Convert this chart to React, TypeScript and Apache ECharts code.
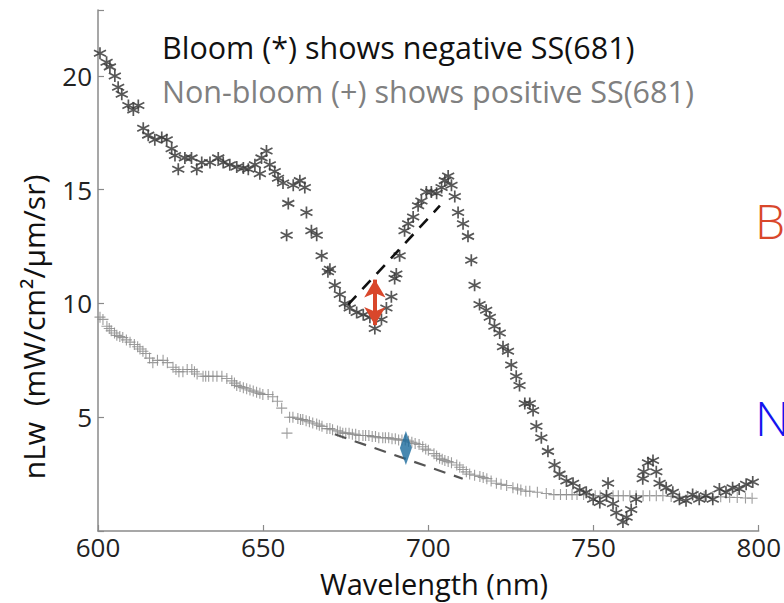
import React, { useEffect, useRef } from "react";
import * as echarts from "echarts";

// Bloom spectrum (asterisks): wavelength (nm) and nLw
const bloomWl = [600.6, 602.6, 603.6, 605.1, 606.1, 607.2, 609.2, 610.7, 612.2, 613.7, 615.2, 617.2, 619.3, 620.8, 622.3, 623.3, 624.3, 626.3, 628.3, 629.9, 631.4, 633.9, 636.4, 637.9, 639.9, 642.0, 644.0, 645.5, 647.5, 649.0, 649.5, 651.0, 652.0, 653.5, 654.5, 656.0, 657.1, 657.6, 659.1, 661.1, 662.6, 663.1, 664.6, 666.2, 667.7, 669.6, 670.2, 671.7, 673.2, 674.7, 676.2, 678.3, 680.3, 682.3, 683.8, 685.8, 687.3, 688.8, 689.8, 690.3, 691.3, 692.8, 693.9, 695.4, 696.9, 697.9, 699.4, 700.9, 702.5, 704.0, 705.0, 706.0, 707.0, 708.0, 709.0, 710.5, 712.0, 713.0, 714.0, 715.5, 717.5, 718.6, 720.0, 721.6, 722.6, 724.1, 725.1, 726.6, 727.6, 729.2, 730.7, 731.7, 732.7, 734.2, 736.2, 738.2, 739.7, 741.8, 743.8, 745.8, 747.8, 749.9, 751.9, 753.9, 754.4, 755.9, 756.9, 758.9, 760.0, 761.4, 762.9, 764.9, 765.2, 766.5, 768.0, 769.0, 770.0, 772.0, 774.0, 776.0, 778.0, 780.0, 782.0, 784.0, 786.1, 788.1, 790.1, 792.1, 794.1, 796.2, 798.2, 800.2];
const bloomVal = [21.0, 20.6, 20.4, 20.0, 19.5, 19.2, 18.7, 18.5, 18.7, 17.7, 17.4, 17.2, 17.3, 17.2, 16.8, 16.5, 15.9, 16.4, 16.4, 15.9, 16.2, 16.2, 16.4, 16.2, 16.1, 16.0, 15.95, 15.9, 16.1, 15.7, 16.4, 16.7, 16.1, 15.8, 15.5, 15.3, 13.0, 14.4, 15.2, 15.4, 15.1, 14.0, 13.2, 13.0, 12.1, 11.4, 11.5, 10.8, 10.4, 10.0, 9.8, 9.6, 9.5, 9.4, 8.9, 9.3, 9.8, 10.3, 11.1, 11.3, 12.1, 13.2, 13.5, 13.8, 14.3, 14.5, 14.9, 14.9, 14.85, 15.1, 15.4, 15.6, 15.2, 14.7, 14.0, 13.5, 12.95, 11.9, 10.8, 9.96, 9.7, 9.4, 9.0, 8.7, 8.1, 7.9, 7.3, 6.8, 6.4, 5.6, 5.6, 5.3, 4.6, 4.1, 3.5, 2.9, 2.5, 2.2, 2.1, 1.8, 1.7, 1.4, 1.25, 1.55, 2.1, 1.2, 0.8, 0.4, 0.6, 0.95, 1.4, 2.3, 2.6, 3.0, 3.1, 2.6, 2.1, 1.9, 1.7, 1.4, 1.33, 1.6, 1.4, 1.55, 1.4, 1.85, 1.7, 1.9, 1.85, 2.05, 2.15, 2.3];

// Non-bloom spectrum (plus signs)
const nonBloomWl = [600.6, 601.5, 602.7, 603.4, 604.0, 605.0, 605.7, 606.6, 607.5, 608.6, 609.7, 611.0, 612.0, 612.7, 613.6, 614.5, 615.6, 616.6, 618.0, 619.7, 621.0, 622.7, 623.6, 624.5, 625.7, 627.0, 628.4, 629.2, 630.0, 631.8, 632.6, 633.5, 634.8, 636.0, 637.5, 639.0, 640.5, 641.3, 642.0, 643.0, 644.0, 645.0, 646.0, 647.0, 648.0, 649.0, 649.9, 651.5, 652.9, 654.3, 655.6, 657.2, 658.0, 659.0, 660.5, 661.3, 662.0, 663.0, 664.0, 665.0, 666.2, 667.0, 667.8, 669.3, 670.2, 671.0, 672.5, 673.3, 674.1, 675.0, 676.0, 677.0, 678.0, 679.0, 680.2, 681.0, 682.0, 683.0, 684.0, 685.0, 686.2, 687.0, 688.0, 689.0, 690.0, 691.0, 692.0, 693.0, 694.0, 695.0, 696.0, 697.2, 698.3, 699.2, 700.0, 701.7, 702.5, 703.4, 704.2, 705.0, 706.0, 707.0, 708.6, 709.5, 710.5, 711.5, 712.5, 714.0, 715.6, 716.6, 717.7, 719.0, 720.6, 722.0, 723.7, 725.6, 727.0, 728.0, 729.5, 730.7, 733.0, 735.7, 738.0, 740.0, 741.8, 743.5, 745.0, 747.0, 748.8, 750.5, 752.0, 754.0, 755.9, 757.5, 759.0, 761.0, 762.9, 765.0, 767.0, 769.0, 771.0, 773.5, 776.0, 778.5, 781.1, 783.5, 786.0, 788.5, 791.2, 793.5, 796.0, 798.0, 800.2];
const nonBloomVal = [9.4, 9.3, 9.0, 8.9, 8.8, 8.7, 8.6, 8.55, 8.5, 8.4, 8.3, 8.2, 8.1, 8.0, 7.9, 7.8, 7.6, 7.4, 7.5, 7.5, 7.4, 7.2, 7.1, 7.0, 7.0, 7.1, 7.1, 7.0, 6.9, 6.8, 6.8, 6.8, 6.8, 6.8, 6.8, 6.7, 6.6, 6.5, 6.4, 6.35, 6.3, 6.25, 6.2, 6.15, 6.1, 6.05, 6.0, 6.0, 5.9, 5.7, 5.4, 4.3, 5.0, 5.0, 4.95, 4.9, 4.9, 4.85, 4.8, 4.75, 4.7, 4.65, 4.6, 4.5, 4.5, 4.45, 4.4, 4.35, 4.3, 4.3, 4.3, 4.25, 4.25, 4.2, 4.2, 4.2, 4.2, 4.15, 4.15, 4.1, 4.1, 4.1, 4.1, 4.05, 4.05, 4.0, 4.0, 4.0, 3.95, 3.9, 3.85, 3.8, 3.7, 3.6, 3.55, 3.4, 3.3, 3.2, 3.15, 3.1, 3.05, 3.0, 2.9, 2.8, 2.7, 2.6, 2.5, 2.45, 2.4, 2.35, 2.3, 2.2, 2.1, 2.05, 2.0, 1.9, 1.85, 1.8, 1.75, 1.75, 1.7, 1.65, 1.6, 1.6, 1.6, 1.6, 1.6, 1.6, 1.6, 1.55, 1.55, 1.55, 1.55, 1.55, 1.55, 1.55, 1.55, 1.55, 1.55, 1.55, 1.55, 1.52, 1.5, 1.52, 1.55, 1.52, 1.5, 1.5, 1.48, 1.47, 1.45, 1.44, 1.43];

// Baselines (dashed) and SS(681) markers
const bloomBaseline = [[675.7, 9.95], [703.5, 14.3]];
const nonBloomBaseline = [[671.7, 4.25], [710.4, 2.3]];
const bloomArrow = [[683.8, 11.05], [683.8, 9.05]];
const nonBloomDiamond = [[693.2, 3.65]];

const xTicks = [600, 650, 700, 750, 800];
const yTickStep = 5;

const FONT = "'Open Sans', 'Noto Sans', sans-serif";
const ASTERISK = "path://M0 -10 L0 10 M-8.66 -5 L8.66 5 M-8.66 5 L8.66 -5";
const PLUS = "path://M0 -10 L0 10 M-10 0 L10 0";

export default function App() {
  const ref = useRef<HTMLDivElement>(null);
  useEffect(() => {
    document.body.style.margin = "0";
    const chart = echarts.init(ref.current!, null, { renderer: "svg" });
    const zip = (a: number[], b: number[]) => a.map((v, i) => [v, b[i]]);
    chart.setOption({
      animation: false,
      backgroundColor: "#ffffff",
      grid: { left: 98, right: 25, top: 10, bottom: 72 },
      xAxis: {
        type: "value",
        min: xTicks[0],
        max: xTicks[xTicks.length - 1],
        interval: 50,
        axisLine: { lineStyle: { color: "#8a8a8a", width: 1.5 } },
        axisTick: { inside: true, length: 6, lineStyle: { color: "#8a8a8a", width: 1.2 } },
        splitLine: { show: false },
        axisLabel: { color: "#222", fontSize: 26, lineHeight: 26, fontFamily: FONT, margin: 3 },
      },
      yAxis: {
        type: "value",
        min: 0,
        max: 22.9,
        interval: yTickStep,
        axisLine: { show: true, lineStyle: { color: "#8a8a8a", width: 1.5 } },
        axisTick: { show: true, inside: true, length: 6, lineStyle: { color: "#8a8a8a", width: 1.2 } },
        splitLine: { show: false },
        axisLabel: {
          color: "#222",
          fontSize: 26,
          fontFamily: FONT,
          margin: 6,
          formatter: (v: number) => (v > 0 && v % yTickStep === 0 ? String(v) : ""),
        },
      },
      series: [
        {
          type: "scatter",
          name: "Non-bloom",
          data: zip(nonBloomWl, nonBloomVal),
          symbol: PLUS,
          symbolSize: 11,
          itemStyle: { color: "transparent", borderColor: "#8c8c8c", borderWidth: 1.1, opacity: 0.85 },
          z: 2,
        },
        {
          type: "scatter",
          name: "Bloom",
          data: zip(bloomWl, bloomVal),
          symbol: ASTERISK,
          symbolSize: 12,
          itemStyle: { color: "transparent", borderColor: "#3a3a3a", borderWidth: 1.7, opacity: 0.85 },
          z: 3,
        },
        {
          type: "line",
          data: bloomBaseline,
          symbol: "none",
          lineStyle: { color: "#111", width: 2.6, type: [12, 9] },
          z: 4,
        },
        {
          type: "line",
          data: nonBloomBaseline,
          symbol: "none",
          lineStyle: { color: "#555", width: 2.2, type: [12, 9] },
          z: 4,
        },
        {
          type: "scatter",
          data: [],
          markLine: {
            silent: true,
            symbol: ["arrow", "arrow"],
            symbolSize: [16, 18],
            label: { show: false },
            lineStyle: { color: "#d9472b", width: 4, type: "solid" },
            data: [[{ coord: bloomArrow[0] }, { coord: bloomArrow[1] }]],
          },
          z: 5,
        },
        {
          type: "scatter",
          data: nonBloomDiamond,
          symbol: "diamond",
          symbolSize: [12, 34],
          itemStyle: { color: "#1a6a9c" },
          z: 5,
        },
      ],
      graphic: [
        {
          type: "text",
          left: 162,
          top: 31,
          style: { text: "Bloom (*) shows negative SS(681)", fill: "#111", font: `30.5px ${FONT}` },
        },
        {
          type: "text",
          left: 162,
          top: 75,
          style: { text: "Non-bloom (+) shows positive SS(681)", fill: "#808080", font: `30.5px ${FONT}` },
        },
        {
          type: "text",
          left: 755,
          top: 196,
          style: { text: "B", fill: "#d9472b", font: `300 48px ${FONT}` },
        },
        {
          type: "text",
          left: 755,
          top: 393,
          style: { text: "N", fill: "#1414ee", font: `300 48px ${FONT}` },
        },
        {
          type: "text",
          x: 33,
          y: 327,
          rotation: Math.PI / 2,
          style: {
            text: "nLw  (mW/cm²/μm/sr)",
            fill: "#111",
            font: `30px ${FONT}`,
            align: "center",
            verticalAlign: "middle",
          },
        },
        {
          type: "text",
          x: 434,
          y: 583,
          style: {
            text: "Wavelength (nm)",
            fill: "#111",
            font: `29px ${FONT}`,
            align: "center",
            verticalAlign: "middle",
          },
        },
      ],
    });
    return () => chart.dispose();
  }, []);
  return <div ref={ref} style={{ width: 784, height: 603 }} />;
}
